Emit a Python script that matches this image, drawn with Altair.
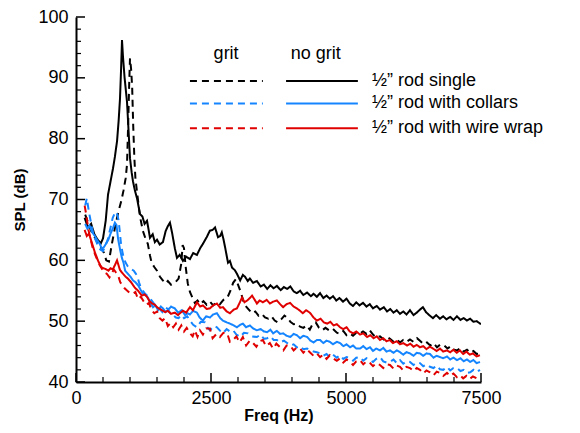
import altair as alt
import pandas as pd

# ---- data (Hz, dB) ----
SINGLE_NOGRIT = [(160,67.0),(220,65.4),(280,66.0),(340,64.3),(400,63.4),(460,62.8),(500,63.6),(550,66.5),(593,70.8),(640,73.0),(685,75.1),(720,77.0),(760,79.6),(790,83.0),(815,86.6),(835,91.5),(852,96.2),(870,93.5),(900,90.0),(945,86.0),(975,81.0),(1000,76.8),(1030,74.5),(1055,73.0),(1090,71.5),(1130,70.2),(1160,68.8),(1185,67.6),(1230,67.2),(1270,66.0),(1315,66.5),(1345,65.0),(1370,63.7),(1420,64.3),(1460,63.0),(1500,63.4),(1550,62.6),(1610,63.0),(1660,64.8),(1700,65.6),(1740,66.2),(1780,64.5),(1830,62.0),(1870,60.4),(1920,60.9),(1980,59.9),(2040,60.6),(2110,60.2),(2170,61.2),(2240,60.9),(2300,62.0),(2350,62.7),(2420,63.8),(2480,64.9),(2530,65.0),(2575,65.4),(2630,63.8),(2670,64.0),(2700,64.6),(2730,63.5),(2760,62.2),(2815,59.6),(2850,59.9),(2890,58.8),(2940,58.4),(2980,57.8),(3040,56.7),(3090,57.6),(3130,57.3),(3180,56.6),(3220,57.0),(3280,56.3),(3350,56.6),(3420,55.7),(3480,56.0),(3540,55.3),(3600,55.9),(3660,55.4),(3720,55.8),(3790,55.1),(3850,55.6),(3910,55.3),(3970,55.7),(4030,54.9),(4090,54.6),(4150,55.0),(4210,54.3),(4280,54.7),(4350,54.1),(4400,54.5),(4460,54.0),(4520,54.6),(4580,53.8),(4640,54.2),(4700,53.7),(4760,54.1),(4820,53.4),(4880,53.8),(4945,53.2),(5010,53.7),(5070,52.9),(5130,52.5),(5190,53.1),(5250,52.6),(5315,53.0),(5380,52.4),(5440,52.8),(5500,52.1),(5570,52.5),(5630,51.9),(5700,52.3),(5760,51.6),(5820,52.0),(5880,51.4),(5940,51.8),(6000,51.2),(6060,51.6),(6120,51.1),(6185,51.8),(6250,51.0),(6310,51.4),(6370,51.9),(6425,52.3),(6480,51.5),(6540,51.0),(6610,50.5),(6670,51.0),(6740,50.4),(6800,50.8),(6860,50.3),(6930,50.7),(6990,50.2),(7055,50.8),(7120,50.2),(7180,50.5),(7240,50.1),(7300,50.4),(7360,49.9),(7420,50.0),(7500,49.5)]

SINGLE_GRIT = [(170,67.5),(220,66.3),(270,65.0),(320,64.2),(370,63.4),(420,62.6),(470,62.0),(520,61.2),(560,60.0),(610,59.8),(660,62.5),(720,65.3),(780,67.8),(840,69.8),(880,71.5),(920,73.5),(945,75.8),(965,82.0),(985,89.0),(1000,93.2),(1020,91.5),(1040,88.5),(1060,82.0),(1080,77.0),(1100,73.5),(1140,70.5),(1185,67.2),(1240,64.8),(1290,63.5),(1330,62.7),(1370,60.8),(1400,59.6),(1450,58.9),(1500,58.3),(1555,57.3),(1600,56.8),(1650,56.2),(1700,56.6),(1760,56.0),(1840,56.4),(1900,57.0),(1950,59.5),(1975,62.5),(2000,62.0),(2030,59.0),(2070,56.2),(2110,54.8),(2160,53.8),(2200,53.0),(2250,53.4),(2300,52.8),(2360,53.3),(2420,52.7),(2480,53.2),(2540,52.6),(2600,53.1),(2665,52.8),(2730,53.5),(2800,53.8),(2860,55.0),(2910,56.3),(2960,56.9),(3000,56.0),(3050,54.8),(3100,53.3),(3140,52.5),(3200,51.9),(3260,51.3),(3320,51.6),(3380,50.9),(3440,51.2),(3500,50.6),(3560,50.4),(3620,50.8),(3680,50.1),(3740,49.8),(3800,50.3),(3860,50.9),(3910,50.6),(3970,49.9),(4030,49.5),(4090,49.6),(4150,49.1),(4210,48.9),(4270,49.3),(4330,48.6),(4390,49.7),(4440,49.8),(4500,48.9),(4560,48.5),(4620,48.9),(4700,48.4),(4760,48.7),(4830,48.1),(4890,47.9),(4950,48.4),(5010,47.7),(5070,48.0),(5130,47.6),(5190,48.1),(5250,47.9),(5315,48.3),(5380,47.9),(5440,48.5),(5500,47.8),(5560,47.3),(5630,47.5),(5700,47.0),(5760,47.4),(5815,47.1),(5880,46.6),(5940,47.0),(6000,46.5),(6060,46.9),(6120,46.6),(6185,47.0),(6250,46.6),(6315,47.2),(6380,46.7),(6440,46.2),(6500,46.5),(6560,46.0),(6620,46.4),(6685,45.7),(6750,46.2),(6820,46.0),(6880,45.5),(6940,45.9),(7000,45.3),(7060,45.2),(7120,45.6),(7180,45.0),(7240,45.3),(7300,44.8),(7360,45.1),(7420,44.6),(7500,44.7)]

COLLARS_NOGRIT = [(170,66.0),(210,65.2),(250,65.7),(300,64.6),(350,64.0),(400,63.2),(440,62.7),(480,61.9),(520,62.2),(560,62.8),(600,63.4),(640,64.4),(685,65.3),(720,66.2),(750,65.8),(780,63.5),(820,61.6),(850,60.4),(880,59.6),(910,58.3),(960,57.8),(1010,57.3),(1055,56.7),(1100,56.4),(1150,55.9),(1200,55.1),(1240,54.5),(1290,54.3),(1330,53.9),(1380,53.0),(1425,52.3),(1470,52.6),(1520,51.8),(1570,52.4),(1610,52.1),(1660,51.5),(1700,51.8),(1760,52.4),(1830,52.1),(1890,51.4),(1960,51.8),(2020,51.0),(2070,51.3),(2110,51.1),(2170,51.7),(2240,51.4),(2290,50.6),(2350,50.1),(2410,50.8),(2480,50.6),(2540,51.1),(2610,51.3),(2670,50.5),(2720,50.1),(2790,49.8),(2850,49.6),(2920,49.3),(2980,49.0),(3040,49.4),(3090,49.6),(3150,49.0),(3220,49.3),(3280,48.8),(3350,48.5),(3420,48.7),(3480,48.3),(3540,48.2),(3600,48.6),(3650,48.0),(3720,48.4),(3780,47.9),(3835,48.0),(3900,47.6),(3970,47.4),(4030,47.9),(4090,47.7),(4150,47.2),(4210,47.6),(4280,47.4),(4340,46.8),(4400,46.5),(4460,46.9),(4520,46.9),(4580,46.4),(4640,46.8),(4700,46.6),(4760,46.2),(4830,46.6),(4890,46.4),(4950,45.9),(5010,46.2),(5075,45.7),(5130,46.0),(5190,45.5),(5260,45.5),(5320,45.9),(5380,45.4),(5445,45.7),(5500,45.1),(5560,45.5),(5630,45.2),(5690,45.6),(5750,45.0),(5815,45.2),(5880,44.8),(5940,45.2),(6000,44.9),(6060,44.5),(6120,44.9),(6185,44.7),(6250,44.3),(6310,44.8),(6370,44.7),(6430,44.3),(6490,44.7),(6555,44.6),(6620,44.0),(6680,44.3),(6740,44.1),(6800,43.9),(6870,44.2),(6930,43.7),(6990,44.0),(7055,43.6),(7120,43.9),(7180,43.4),(7240,43.7),(7300,43.3),(7360,43.6),(7420,43.1),(7480,43.3)]

COLLARS_GRIT = [(170,69.0),(200,70.2),(230,68.5),(260,67.0),(300,65.2),(330,64.0),(380,63.0),(420,62.0),(460,61.7),(500,61.5),(540,62.3),(590,63.5),(640,65.4),(680,67.0),(710,67.6),(740,68.0),(770,67.4),(790,66.5),(810,64.8),(830,63.0),(855,61.6),(880,60.5),(920,59.6),(960,59.0),(1010,58.6),(1070,58.3),(1100,57.9),(1130,57.5),(1170,56.3),(1200,55.5),(1240,55.0),(1280,54.5),(1340,54.0),(1400,53.4),(1450,52.8),(1500,52.5),(1550,52.0),(1600,51.5),(1650,52.3),(1700,52.0),(1750,51.2),(1800,51.0),(1850,50.6),(1900,50.5),(1950,51.0),(2000,50.5),(2060,50.8),(2110,50.1),(2170,49.4),(2240,49.0),(2310,49.9),(2390,49.8),(2430,49.0),(2480,48.5),(2550,49.2),(2610,49.0),(2670,48.4),(2720,48.0),(2790,48.7),(2850,48.3),(2910,48.5),(2970,47.8),(3040,47.4),(3110,48.1),(3185,48.0),(3260,47.5),(3350,47.4),(3420,47.8),(3480,47.1),(3540,47.2),(3600,47.5),(3660,46.9),(3720,46.9),(3780,46.5),(3850,46.8),(3910,46.4),(3970,46.0),(4030,46.2),(4090,45.7),(4150,45.9),(4210,45.4),(4280,45.5),(4330,45.2),(4400,45.0),(4460,44.9),(4520,44.7),(4580,44.3),(4640,44.6),(4700,44.1),(4760,44.5),(4830,44.0),(4890,44.4),(4950,43.8),(5010,44.1),(5075,43.9),(5130,43.5),(5190,44.0),(5260,44.1),(5320,43.5),(5380,43.9),(5445,43.6),(5500,43.3),(5560,43.8),(5630,44.1),(5690,43.4),(5750,43.2),(5815,43.3),(5880,43.7),(5940,43.1),(6000,43.6),(6060,43.0),(6120,43.4),(6185,43.3),(6250,42.8),(6310,43.2),(6370,43.1),(6430,42.6),(6490,42.9),(6555,42.5),(6620,42.3),(6680,42.7),(6740,42.1),(6800,42.0),(6870,42.5),(6930,41.9),(6990,42.3),(7055,42.3),(7120,41.8),(7180,42.0),(7240,41.5),(7300,41.6),(7360,42.0),(7420,41.6),(7480,42.0)]

WIRE_NOGRIT = [(160,65.0),(200,64.0),(240,64.4),(300,62.7),(350,61.3),(410,59.9),(450,59.2),(480,58.8),(540,58.6),(600,58.3),(640,58.7),(680,58.5),(720,59.2),(760,60.0),(790,59.1),(815,58.4),(870,57.8),(920,57.3),(960,57.0),(1020,56.4),(1090,55.5),(1150,55.0),(1220,54.2),(1270,54.4),(1315,54.0),(1360,53.3),(1410,52.9),(1460,52.7),(1500,52.3),(1550,52.0),(1590,51.8),(1650,51.5),(1700,51.7),(1760,51.2),(1830,51.4),(1890,51.0),(1925,51.3),(1980,51.7),(2040,51.4),(2110,52.3),(2165,51.8),(2240,53.1),(2300,52.4),(2350,52.6),(2420,52.0),(2480,52.1),(2540,52.6),(2610,52.9),(2670,52.2),(2720,52.3),(2790,51.6),(2850,51.3),(2920,51.9),(2980,52.1),(3030,53.0),(3075,53.9),(3120,53.1),(3170,53.4),(3220,53.8),(3260,54.2),(3310,53.5),(3350,52.9),(3400,53.4),(3460,53.1),(3530,53.5),(3590,52.9),(3650,53.2),(3720,53.4),(3780,52.8),(3835,52.3),(3900,52.8),(3965,53.0),(4030,52.4),(4090,52.1),(4150,51.7),(4200,51.3),(4260,51.8),(4330,51.4),(4400,50.6),(4460,50.1),(4530,50.4),(4590,49.8),(4650,49.6),(4710,49.9),(4770,49.3),(4830,49.5),(4890,49.0),(4950,48.7),(5010,49.0),(5070,48.3),(5130,48.0),(5190,48.3),(5260,47.8),(5320,48.0),(5390,47.4),(5450,47.7),(5510,47.2),(5570,47.5),(5630,46.9),(5690,47.2),(5750,46.7),(5810,46.9),(5870,46.4),(5940,46.7),(6000,46.2),(6060,46.4),(6130,46.0),(6190,46.3),(6250,45.8),(6310,46.1),(6370,45.7),(6430,45.9),(6490,45.4),(6550,45.8),(6610,45.5),(6680,45.1),(6740,45.5),(6800,45.0),(6870,45.2),(6930,44.9),(6990,45.3),(7050,44.8),(7110,45.2),(7170,44.6),(7230,45.0),(7290,44.5),(7350,44.7),(7420,44.2),(7480,44.4)]

WIRE_GRIT = [(160,69.0),(190,67.5),(230,65.0),(270,63.5),(310,62.0),(360,60.8),(400,60.0),(440,59.2),(480,58.6),(520,58.0),(570,57.8),(620,57.2),(660,57.8),(700,58.5),(740,58.0),(780,57.5),(820,56.4),(860,55.9),(900,55.4),(950,55.0),(1000,54.6),(1050,54.5),(1100,54.8),(1150,53.6),(1200,54.0),(1250,53.3),(1300,52.7),(1350,53.0),(1400,51.8),(1450,51.3),(1500,51.6),(1550,50.5),(1600,50.1),(1650,50.5),(1700,49.2),(1750,49.7),(1800,49.0),(1850,49.6),(1900,48.6),(1950,49.3),(2000,48.3),(2050,48.9),(2110,48.0),(2160,47.5),(2200,48.5),(2250,47.4),(2295,48.5),(2350,47.8),(2410,48.8),(2480,48.8),(2530,47.2),(2600,47.9),(2665,47.4),(2730,48.1),(2800,48.0),(2850,46.6),(2910,46.9),(2970,47.5),(3030,46.5),(3090,47.4),(3150,46.0),(3220,46.8),(3280,46.4),(3340,45.8),(3400,46.7),(3460,46.9),(3520,45.9),(3590,46.4),(3650,45.5),(3710,46.3),(3780,45.7),(3840,45.2),(3900,46.0),(3965,46.0),(4030,45.2),(4090,45.7),(4150,45.5),(4210,44.8),(4270,45.4),(4330,44.9),(4400,44.3),(4460,44.7),(4520,44.1),(4580,44.5),(4640,43.8),(4700,44.4),(4760,43.9),(4830,43.5),(4890,43.9),(4950,43.2),(5010,43.7),(5075,43.3),(5130,42.8),(5190,43.4),(5260,43.6),(5320,42.9),(5380,43.4),(5445,43.1),(5500,42.6),(5560,43.1),(5630,42.8),(5690,42.3),(5750,42.9),(5815,42.8),(5880,42.2),(5940,42.7),(6000,42.5),(6060,41.9),(6120,42.5),(6185,42.3),(6250,41.8),(6310,42.3),(6370,42.0),(6430,41.4),(6490,41.9),(6555,41.6),(6620,41.1),(6680,41.7),(6740,41.5),(6800,41.0),(6870,41.5),(6930,41.0),(6990,41.4),(7055,40.8),(7110,41.1),(7170,40.6),(7230,41.0),(7290,40.5),(7350,40.9),(7420,40.6),(7480,41.1)]

RODS = ["\u00bd\u201d rod single", "\u00bd\u201d rod with collars", "\u00bd\u201d rod with wire wrap"]
GRIT = ["grit", "no grit"]
COLORS = ["#000000", "#1585ff", "#e00000"]

X_MAJOR = [0, 2500, 5000, 7500]
X_MINOR = [500, 1000, 1500, 2000, 3000, 3500, 4000, 4500, 5500, 6000, 6500, 7000]
Y_MAJOR = [40, 50, 60, 70, 80, 90, 100]
Y_MINOR = [42, 44, 46, 48, 52, 54, 56, 58, 62, 64, 66, 68, 72, 74, 76, 78, 82, 84, 86, 88, 92, 94, 96, 98]

series = [
    (RODS[0], "no grit", SINGLE_NOGRIT),
    (RODS[0], "grit", SINGLE_GRIT),
    (RODS[1], "no grit", COLLARS_NOGRIT),
    (RODS[1], "grit", COLLARS_GRIT),
    (RODS[2], "no grit", WIRE_NOGRIT),
    (RODS[2], "grit", WIRE_GRIT),
]
rows = []
for rod, g, pts in series:
    for i, (f, v) in enumerate(pts):
        rows.append({"f": f, "db": v, "rod": rod, "grit": g, "i": i})
df = pd.DataFrame(rows)

W, H = 405, 365
xs = alt.Scale(domain=[0, 7500], nice=False, zero=False)
ys = alt.Scale(domain=[40, 100], nice=False, zero=False)
FONT = "Liberation Sans"

XAX = alt.Axis(
    values=X_MAJOR, format="d", ticks=False, tickSize=0, grid=False, domainColor="black", domainWidth=2,
    labelFont=FONT, labelFontSize=18, labelColor="black", labelPadding=7, labelFlush=False,
    title="Freq (Hz)", titleFont=FONT, titleFontSize=16, titleFontWeight="bold",
    titleColor="black", titlePadding=0)
YAX = alt.Axis(
    values=Y_MAJOR, format="d", ticks=False, tickSize=0, grid=False, domainColor="black", domainWidth=2,
    labelFont=FONT, labelFontSize=18, labelColor="black", labelPadding=8, labelFlush=False,
    title="SPL (dB)", titleFont=FONT, titleFontSize=15, titleFontWeight="bold",
    titleColor="black", titlePadding=10)

color = alt.Color("rod:N", scale=alt.Scale(domain=RODS, range=COLORS), legend=None)
dash = alt.StrokeDash("grit:N", scale=alt.Scale(domain=GRIT, range=[[7, 5], [1, 0]]), legend=None)

lines = alt.Chart(df).mark_line(strokeWidth=2, clip=True).encode(
    x=alt.X("f:Q", scale=xs, axis=XAX),
    y=alt.Y("db:Q", scale=ys, axis=YAX),
    color=color,
    strokeDash=dash,
    order="i:Q",
)

xmaj = alt.Chart(pd.DataFrame({"v": X_MAJOR})).mark_rule(color="black", strokeWidth=1.5).encode(
    x=alt.X("v:Q", scale=xs, axis=XAX), y=alt.value(H), y2=alt.value(H - 9))
xmin = alt.Chart(pd.DataFrame({"v": X_MINOR})).mark_rule(color="black", strokeWidth=1.2).encode(
    x=alt.X("v:Q", scale=xs, axis=XAX), y=alt.value(H), y2=alt.value(H - 5))
ymaj = alt.Chart(pd.DataFrame({"v": Y_MAJOR})).mark_rule(color="black", strokeWidth=1.5).encode(
    y=alt.Y("v:Q", scale=ys, axis=YAX), x=alt.value(0), x2=alt.value(9))
ymin = alt.Chart(pd.DataFrame({"v": Y_MINOR})).mark_rule(color="black", strokeWidth=1.2).encode(
    y=alt.Y("v:Q", scale=ys, axis=YAX), x=alt.value(0), x2=alt.value(5))

# ---- manual legend (positions in data units) ----
LEG_Y = [89.5, 85.8, 81.7]
leg_rows = []
for rod, yv in zip(RODS, LEG_Y):
    leg_rows.append({"rod": rod, "grit": "grit", "x1": 2110, "x2": 3460, "y": yv})
    leg_rows.append({"rod": rod, "grit": "no grit", "x1": 3890, "x2": 5220, "y": yv})
leg_df = pd.DataFrame(leg_rows)
leg_lines = alt.Chart(leg_df).mark_rule(strokeWidth=2).encode(
    x=alt.X("x1:Q", scale=xs, axis=XAX), x2="x2:Q",
    y=alt.Y("y:Q", scale=ys, axis=YAX),
    color=color, strokeDash=dash)

lab_df = pd.DataFrame({"rod": RODS, "y": LEG_Y, "x": [5480] * 3})
leg_labels = alt.Chart(lab_df).mark_text(align="left", baseline="middle", font=FONT, fontSize=18, color="black").encode(
    x=alt.X("x:Q", scale=xs, axis=XAX), y=alt.Y("y:Q", scale=ys, axis=YAX), text="rod:N")

head_df = pd.DataFrame({"t": GRIT, "x": [2780, 4440], "y": [94.0, 94.0]})
leg_heads = alt.Chart(head_df).mark_text(align="center", baseline="middle", font=FONT, fontSize=18, color="black").encode(
    x=alt.X("x:Q", scale=xs, axis=XAX), y=alt.Y("y:Q", scale=ys, axis=YAX), text="t:N")

chart = alt.layer(lines, xmaj, xmin, ymaj, ymin, leg_lines, leg_labels, leg_heads).properties(
    width=W, height=H,
    autosize=alt.AutoSizeParams(type="none"),
    padding={"left": 68, "top": 9, "right": 91, "bottom": 43},
    background="white",
).configure_view(stroke=None)

chart.save("out.html", embed_options={"renderer": "svg", "actions": False})
